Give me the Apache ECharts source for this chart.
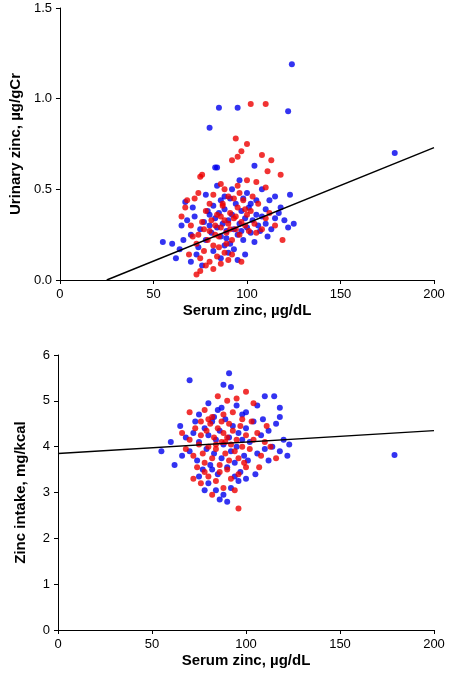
<!DOCTYPE html><html><head><meta charset="utf-8"><script src="https://cdn.jsdelivr.net/npm/echarts@6/dist/echarts.min.js"></script>
<style>html,body{margin:0;background:#fff}#c{width:451px;height:685px}</style></head><body><div id="c"></div><script>
const xTicks=[0,50,100,150,200];
const urineBlue=[[124,1.19],[179,0.70],[85,0.95],[95,0.95],[122,0.93],[80,0.84],[83,0.62],[84,0.62],[104,0.63],[98,0.45],[88,0.46],[91,0.45],[105,0.44],[112,0.44],[115,0.46],[123,0.47],[55,0.21],[60,0.20],[62,0.12],[65,0.30],[68,0.33],[70,0.25],[72,0.35],[74,0.18],[75,0.28],[77,0.32],[78,0.22],[79,0.38],[80,0.30],[81,0.26],[82,0.41],[83,0.34],[84,0.29],[85,0.37],[86,0.24],[87,0.31],[88,0.39],[89,0.27],[90,0.33],[91,0.20],[92,0.36],[93,0.28],[94,0.42],[95,0.25],[96,0.31],[97,0.38],[98,0.22],[99,0.34],[100,0.29],[101,0.40],[102,0.26],[103,0.33],[104,0.21],[105,0.36],[106,0.30],[107,0.27],[108,0.35],[110,0.31],[111,0.24],[113,0.28],[115,0.34],[117,0.37],[120,0.33],[122,0.29],[125,0.31],[70,0.10],[73,0.14],[76,0.08],[82,0.16],[86,0.12],[90,0.15],[95,0.11],[66,0.22],[67,0.43],[78,0.47],[84,0.52],[92,0.50],[96,0.55],[100,0.48],[108,0.50],[88,0.19],[93,0.17],[99,0.14],[64,0.17],[71,0.40],[86,0.44],[102,0.42],[110,0.39],[118,0.40],[80,0.36],[97,0.27],[89,0.23]];
const urineRed=[[102,0.97],[110,0.97],[94,0.78],[100,0.75],[92,0.66],[95,0.68],[97,0.71],[108,0.69],[113,0.66],[111,0.60],[118,0.58],[75,0.57],[76,0.58],[86,0.53],[88,0.50],[95,0.52],[100,0.55],[105,0.54],[110,0.51],[65,0.35],[67,0.40],[70,0.30],[72,0.45],[73,0.20],[74,0.25],[75,0.12],[76,0.32],[77,0.28],[78,0.38],[79,0.22],[80,0.27],[81,0.33],[82,0.19],[83,0.30],[84,0.36],[85,0.24],[86,0.29],[87,0.41],[88,0.33],[89,0.26],[90,0.31],[91,0.37],[92,0.22],[93,0.34],[94,0.28],[95,0.40],[96,0.25],[97,0.32],[98,0.44],[99,0.30],[100,0.36],[101,0.27],[102,0.38],[104,0.31],[106,0.42],[108,0.28],[110,0.34],[112,0.37],[115,0.30],[119,0.22],[73,0.03],[75,0.05],[78,0.08],[80,0.10],[82,0.06],[84,0.13],[86,0.09],[88,0.15],[90,0.11],[77,0.16],[85,0.18],[92,0.14],[97,0.10],[69,0.14],[71,0.24],[68,0.44],[74,0.48],[82,0.47],[90,0.46],[96,0.48],[103,0.46],[87,0.42],[83,0.25],[89,0.20],[94,0.35],[91,0.28],[86,0.35],[80,0.42],[99,0.39],[105,0.26],[93,0.45]];
const intakeBlue=[[179,3.82],[70,5.45],[91,5.60],[88,5.35],[92,5.30],[110,5.10],[115,5.10],[106,4.90],[118,4.85],[75,4.70],[80,4.95],[85,4.80],[95,4.90],[100,4.75],[65,4.45],[68,4.20],[70,3.90],[72,4.30],[74,3.70],[75,4.10],[77,3.50],[78,4.40],[79,3.95],[80,4.25],[81,3.60],[82,4.55],[83,3.85],[84,4.15],[85,3.40],[86,4.35],[87,3.75],[88,4.05],[89,4.60],[90,3.55],[91,4.20],[92,3.90],[93,4.45],[94,3.65],[95,4.00],[96,4.30],[97,3.45],[98,4.15],[99,3.80],[100,4.40],[101,3.70],[102,4.10],[104,4.55],[106,3.85],[108,4.25],[110,3.95],[112,4.35],[114,4.00],[116,4.50],[118,3.90],[120,4.15],[122,3.80],[123,4.05],[55,3.90],[60,4.10],[62,3.60],[66,3.80],[80,3.20],[84,3.05],[88,2.95],[92,3.10],[96,3.25],[86,2.85],[90,2.80],[75,3.35],[100,3.30],[105,3.40],[82,3.50],[94,3.35],[78,3.05],[112,3.70],[118,4.65],[98,4.70],[87,4.85],[83,4.65],[73,4.55],[109,4.60]];
const intakeRed=[[96,2.65],[100,5.20],[95,5.05],[85,5.10],[90,5.00],[104,4.95],[70,4.75],[78,4.80],[82,4.65],[88,4.70],[93,4.75],[98,4.60],[66,4.30],[68,3.95],[70,4.15],[72,3.80],[73,4.40],[74,3.55],[75,4.05],[76,4.25],[77,3.85],[78,3.65],[79,4.35],[80,4.00],[81,4.50],[82,3.75],[83,4.20],[84,3.95],[85,4.40],[86,3.60],[87,4.10],[88,4.30],[89,3.85],[90,4.20],[91,3.70],[92,4.05],[93,4.35],[94,3.90],[95,4.15],[96,3.75],[97,4.45],[98,4.00],[99,3.65],[100,4.25],[102,3.95],[104,4.15],[106,4.30],[108,3.80],[110,4.10],[113,4.00],[116,3.75],[76,3.20],[80,3.35],[84,3.25],[88,3.10],[92,3.30],[86,3.45],[90,3.50],[78,3.45],[96,3.40],[100,3.55],[72,3.30],[82,2.95],[94,3.05],[107,3.55],[111,4.45],[103,4.55],[87,4.55],[80,4.60],[76,4.55],[91,4.50],[84,4.05],[89,4.10]];
const urineLine=[[25,0],[200,0.73]];
const intakeLine=[[0,3.85],[200,4.35]];
const ax={color:'#000',fontSize:13,fontFamily:'Liberation Sans'};
function xa(i){return {gridIndex:i,type:'value',min:0,max:200,interval:50,name:'Serum zinc, µg/dL',nameLocation:'middle',nameGap:23,nameTextStyle:{fontSize:15,fontWeight:'bold',color:'#000',fontFamily:'Liberation Sans'},axisLine:{lineStyle:{color:'#000'}},axisTick:{inside:false,length:4,lineStyle:{color:'#000'}},axisLabel:ax,splitLine:{show:false}};}
const ch=echarts.init(document.getElementById('c'));
ch.setOption({animation:false,
grid:[{left:58,right:17,top:8,height:272},{left:58,right:17,top:355,height:275}],
xAxis:[xa(0),xa(1)],
yAxis:[{gridIndex:0,type:'value',min:0,max:1.5,interval:0.5,name:'Urinary zinc, µg/gCr',nameLocation:'middle',nameGap:36,nameTextStyle:{fontSize:15,fontWeight:'bold',color:'#000',fontFamily:'Liberation Sans'},axisLine:{show:true,lineStyle:{color:'#000'}},axisTick:{show:true,length:4},axisLabel:Object.assign({formatter:v=>v.toFixed(1)},ax),splitLine:{show:false}},
{gridIndex:1,type:'value',min:0,max:6,interval:1,name:'Zinc intake, mg/kcal',nameLocation:'middle',nameGap:30,nameTextStyle:{fontSize:15,fontWeight:'bold',color:'#000',fontFamily:'Liberation Sans'},axisLine:{show:true,lineStyle:{color:'#000'}},axisTick:{show:true,length:4},axisLabel:ax,splitLine:{show:false}}],
series:[
{type:'scatter',xAxisIndex:0,yAxisIndex:0,data:urineBlue,symbolSize:6,itemStyle:{color:'#0000ee'}},
{type:'scatter',xAxisIndex:0,yAxisIndex:0,data:urineRed,symbolSize:6,itemStyle:{color:'#ee0000'}},
{type:'line',xAxisIndex:0,yAxisIndex:0,data:urineLine,symbol:'none',lineStyle:{color:'#000',width:1.5}},
{type:'scatter',xAxisIndex:1,yAxisIndex:1,data:intakeBlue,symbolSize:6,itemStyle:{color:'#0000ee'}},
{type:'scatter',xAxisIndex:1,yAxisIndex:1,data:intakeRed,symbolSize:6,itemStyle:{color:'#ee0000'}},
{type:'line',xAxisIndex:1,yAxisIndex:1,data:intakeLine,symbol:'none',lineStyle:{color:'#000',width:1.5}}
]});
</script></body></html>
